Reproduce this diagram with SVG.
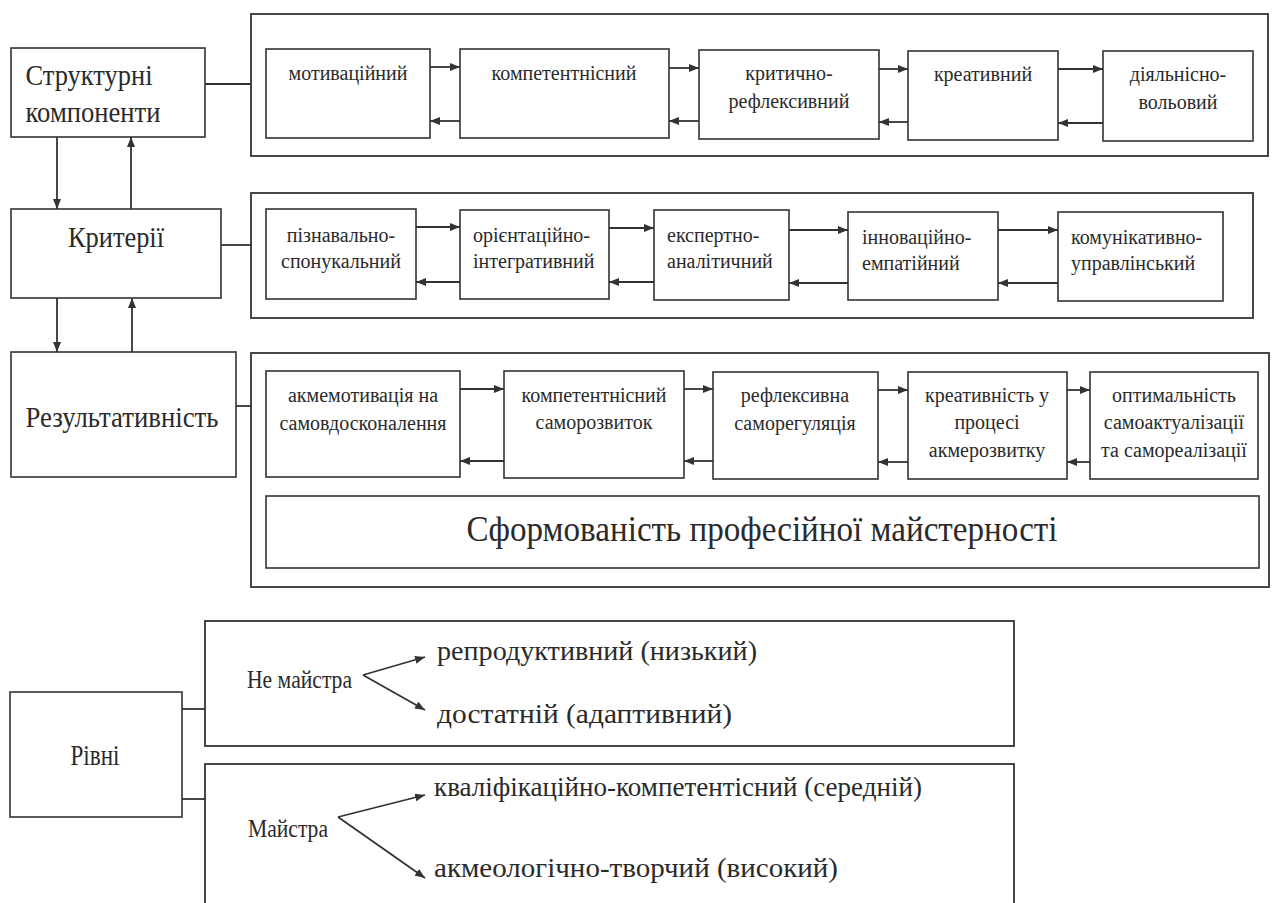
<svg xmlns="http://www.w3.org/2000/svg" width="1272" height="903" viewBox="0 0 1272 903" font-family="'Liberation Serif', 'DejaVu Serif', serif">
<defs>
<marker id="ah" viewBox="0 0 10 8" refX="10" refY="4" markerWidth="10" markerHeight="8" markerUnits="userSpaceOnUse" orient="auto">
<path d="M0,0 L10,4 L0,8 Z" fill="#333"/>
</marker>
<style>
rect{fill:#fff;stroke:#333;stroke-width:1.6}
.o{fill:none;stroke-width:1.8}
.c line,.c path{stroke:#333;stroke-width:1.8;fill:none}
.a{marker-end:url(#ah)}
text{font-family:'Liberation Serif','DejaVu Serif',serif;fill:#2a2a2a}
.s{font-size:20px;text-anchor:middle}
.sl{font-size:20px}
.m{font-size:29px;text-anchor:middle}
.b{font-size:35px;text-anchor:middle}
.l{font-size:28px}
.l2{font-size:26px}
</style>
</defs>
<rect width="1272" height="903" style="fill:#fff;stroke:none"/>

<g id="outer1"><rect class="o" x="251" y="14" width="1017" height="142"/></g>
<g id="outer2"><rect class="o" x="251" y="193" width="1002" height="125"/></g>
<g id="outer3"><rect class="o" x="251" y="353" width="1018" height="234"/></g>
<g id="outer4"><rect class="o" x="205" y="621" width="809" height="125"/></g>
<g id="outer5"><rect class="o" x="205" y="764" width="809" height="150"/></g>

<g id="n-struct"><rect x="11" y="48" width="194" height="89"/><text class="m" x="89" y="85" textLength="127" lengthAdjust="spacingAndGlyphs">Структурні</text><text class="m" x="93" y="122" textLength="135" lengthAdjust="spacingAndGlyphs">компоненти</text></g>
<g id="n-krit"><rect x="11" y="209" width="210" height="89"/><text class="m" x="116" y="247" textLength="96" lengthAdjust="spacingAndGlyphs">Критерії</text></g>
<g id="n-rez"><rect x="11" y="352" width="225" height="125"/><text class="m" x="122" y="427" textLength="193" lengthAdjust="spacingAndGlyphs">Результативність</text></g>
<g id="n-rivni"><rect x="10" y="692" width="172" height="125"/><text class="m" x="95" y="765" textLength="49" lengthAdjust="spacingAndGlyphs">Рівні</text></g>

<g id="r1-1"><rect x="266" y="49" width="164" height="89"/><text class="s" x="348" y="80">мотиваційний</text></g>
<g id="r1-2"><rect x="460" y="49" width="209" height="89"/><text class="s" x="564" y="80">компетентнісний</text></g>
<g id="r1-3"><rect x="699" y="50" width="180" height="89"/><text class="s" x="789" y="80">критично-</text><text class="s" x="789" y="108">рефлексивний</text></g>
<g id="r1-4"><rect x="908" y="51" width="150" height="89"/><text class="s" x="983" y="81">креативний</text></g>
<g id="r1-5"><rect x="1103" y="51" width="150" height="90"/><text class="s" x="1178" y="81">діяльнісно-</text><text class="s" x="1178" y="109">вольовий</text></g>

<g id="r2-1"><rect x="266" y="209" width="150" height="90"/><text class="s" x="341" y="242">пізнавально-</text><text class="s" x="341" y="268">спонукальний</text></g>
<g id="r2-2"><rect x="460" y="210" width="149" height="89"/><text class="sl" x="473" y="242">орієнтаційно-</text><text class="sl" x="473" y="268">інтегративний</text></g>
<g id="r2-3"><rect x="654" y="210" width="135" height="90"/><text class="sl" x="667" y="242">експертно-</text><text class="sl" x="667" y="268">аналітичний</text></g>
<g id="r2-4"><rect x="848" y="212" width="150" height="88"/><text class="sl" x="862" y="244">інноваційно-</text><text class="sl" x="862" y="270">емпатійний</text></g>
<g id="r2-5"><rect x="1058" y="212" width="165" height="89"/><text class="sl" x="1071" y="244">комунікативно-</text><text class="sl" x="1071" y="270">управлінський</text></g>

<g id="r3-1"><rect x="266" y="371" width="194" height="106"/><text class="s" x="363" y="402">акмемотивація на</text><text class="s" x="363" y="430">самовдосконалення</text></g>
<g id="r3-2"><rect x="504" y="371" width="180" height="107"/><text class="s" x="594" y="402">компетентнісний</text><text class="s" x="594" y="429">саморозвиток</text></g>
<g id="r3-3"><rect x="713" y="372" width="165" height="107"/><text class="s" x="795" y="402">рефлексивна</text><text class="s" x="795" y="430">саморегуляція</text></g>
<g id="r3-4"><rect x="908" y="372" width="159" height="107"/><text class="s" x="987" y="402">креативність у</text><text class="s" x="987" y="429">процесі</text><text class="s" x="987" y="457">акмерозвитку</text></g>
<g id="r3-5"><rect x="1090" y="372" width="168" height="107"/><text class="s" x="1174" y="402">оптимальність</text><text class="s" x="1174" y="429">самоактуалізації</text><text class="s" x="1174" y="457">та самореалізації</text></g>
<g id="r3-form"><rect x="266" y="496" width="993" height="72"/><text class="b" x="762" y="541" textLength="591" lengthAdjust="spacingAndGlyphs">Сформованість професійної майстерності</text></g>

<g id="lv-ne"><text class="l2" x="247" y="688" textLength="105" lengthAdjust="spacingAndGlyphs">Не майстра</text><text class="l" x="437" y="660" textLength="320" lengthAdjust="spacingAndGlyphs">репродуктивний (низький)</text><text class="l" x="437" y="723" textLength="295" lengthAdjust="spacingAndGlyphs">достатній (адаптивний)</text></g>
<g id="lv-m"><text class="l2" x="248" y="837" textLength="80" lengthAdjust="spacingAndGlyphs">Майстра</text><text class="l" x="434" y="796" textLength="488" lengthAdjust="spacingAndGlyphs">кваліфікаційно-компетентісний (середній)</text><text class="l" x="434" y="877" textLength="404" lengthAdjust="spacingAndGlyphs">акмеологічно-творчий (високий)</text></g>

<g id="connectors" class="c">
<line x1="205" y1="84" x2="251" y2="84"/>
<line x1="221" y1="245" x2="251" y2="245"/>
<line x1="236" y1="406" x2="251" y2="406"/>
<line x1="182" y1="709" x2="205" y2="709"/>
<line x1="182" y1="799" x2="205" y2="799"/>
<line class="a" x1="57" y1="137" x2="57" y2="209"/>
<line class="a" x1="131" y1="209" x2="131" y2="137"/>
<line class="a" x1="57" y1="298" x2="57" y2="352"/>
<line class="a" x1="132" y1="352" x2="132" y2="298"/>
<line class="a" x1="430" y1="67" x2="460" y2="67"/>
<line class="a" x1="460" y1="121" x2="430" y2="121"/>
<line class="a" x1="669" y1="68" x2="699" y2="68"/>
<line class="a" x1="699" y1="121" x2="669" y2="121"/>
<line class="a" x1="879" y1="69" x2="908" y2="69"/>
<line class="a" x1="908" y1="122" x2="879" y2="122"/>
<line class="a" x1="1058" y1="69" x2="1103" y2="69"/>
<line class="a" x1="1103" y1="123" x2="1058" y2="123"/>
<line class="a" x1="416" y1="227" x2="460" y2="227"/>
<line class="a" x1="460" y1="282" x2="416" y2="282"/>
<line class="a" x1="609" y1="228" x2="654" y2="228"/>
<line class="a" x1="654" y1="282" x2="609" y2="282"/>
<line class="a" x1="789" y1="230" x2="848" y2="230"/>
<line class="a" x1="848" y1="283" x2="789" y2="283"/>
<line class="a" x1="998" y1="230" x2="1058" y2="230"/>
<line class="a" x1="1058" y1="283" x2="998" y2="283"/>
<line class="a" x1="460" y1="389" x2="504" y2="389"/>
<line class="a" x1="504" y1="461" x2="460" y2="461"/>
<line class="a" x1="684" y1="389" x2="713" y2="389"/>
<line class="a" x1="713" y1="461" x2="684" y2="461"/>
<line class="a" x1="878" y1="390" x2="908" y2="390"/>
<line class="a" x1="908" y1="462" x2="878" y2="462"/>
<line class="a" x1="1067" y1="390" x2="1090" y2="390"/>
<line class="a" x1="1090" y1="462" x2="1067" y2="462"/>
<line class="a" x1="363" y1="675" x2="425" y2="657"/>
<line class="a" x1="363" y1="675" x2="425" y2="710"/>
<line class="a" x1="338" y1="817" x2="425" y2="795"/>
<line class="a" x1="338" y1="817" x2="425" y2="878"/>
</g>
</svg>
